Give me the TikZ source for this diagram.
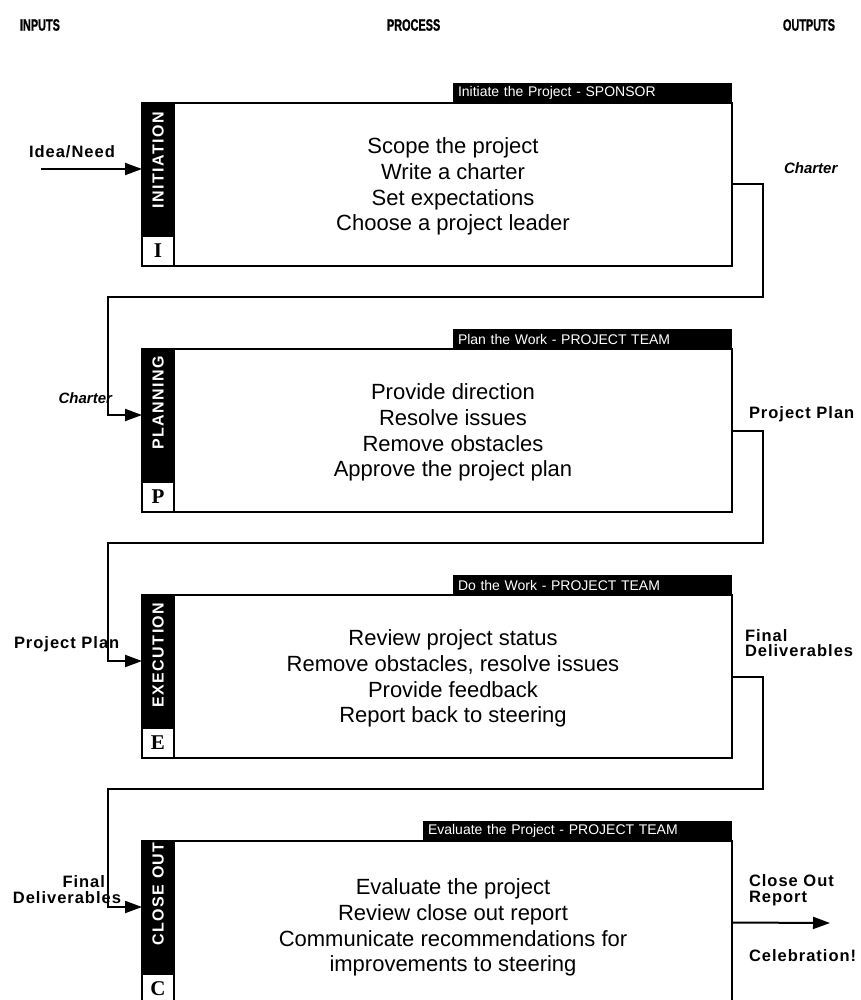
\documentclass[tikz,border=0pt]{standalone}
\usepackage{fontspec}
\setmainfont{Liberation Sans}
\newfontfamily\lblfont[LetterSpace=6]{Liberation Sans}
\newfontfamily\tagfont[LetterSpace=9]{Liberation Sans}
\newfontfamily\headfont[FakeStretch=0.66,FakeBold=1]{Liberation Sans}
\newfontfamily\letterfont{Liberation Serif}
\usetikzlibrary{arrows.meta,calc}

\begin{document}
\begin{tikzpicture}[x=1pt,y=-1pt,line width=2pt,
  box/.style={draw,line width=2pt,minimum width=590pt,minimum height=163pt,
    anchor=north west,inner sep=0pt,outer sep=0pt},
  strip/.style={fill=black,draw=black,line width=2pt,minimum width=32pt,minimum height=133pt,
    anchor=north west,inner sep=0pt,outer sep=0pt},
  cell/.style={draw,line width=2pt,fill=white,minimum width=32pt,minimum height=30pt,
    anchor=north west,inner sep=0pt,outer sep=0pt,
    font=\letterfont\bfseries\fontsize{21}{21}\selectfont},
  stagetag/.style={rotate=90,text=white,inner sep=0pt,
    font=\tagfont\bfseries\fontsize{16}{16}\selectfont},
  headbar/.style={fill=black,text=white,anchor=south east,minimum height=20pt,
    inner xsep=5pt,inner ysep=0pt,outer sep=0pt,align=left,
    font=\fontsize{14}{14}\selectfont},
  bodytext/.style={align=center,inner sep=0pt,
    font=\fontsize{22}{25.7}\selectfont},
  colhead/.style={inner sep=0pt,font=\headfont\bfseries\fontsize{16.5}{16}\selectfont},
  lbl/.style={inner sep=0pt,font=\lblfont\bfseries\fontsize{16.5}{15.5}\selectfont},
  itlbl/.style={inner sep=0pt,font=\bfseries\itshape\fontsize{15}{15}\selectfont},
  arr/.style={-{Triangle[length=17pt,width=12pt]},line width=2pt}]

\useasboundingbox (0,0) rectangle (860,1000);
\clip (0,0) rectangle (860,1000);

% column headings
\node[colhead,anchor=west] (hin) at (19,25) {INPUTS};
\node[colhead,anchor=west] (hproc) at (386,25) {PROCESS};
\node[colhead,anchor=east] (hout) at (836,25) {OUTPUTS};

% ---------------- stage 1: initiation
\node[box] (box1) at (142,103) {};
\node[strip] (strip1) at (box1.north west) {};
\node[cell] (cell1) at (strip1.south west) {I};
\node[stagetag] (tag1) at (158,160) {INITIATION};
\node[headbar,text width=269pt] (head1) at (box1.north east) {Initiate the Project - SPONSOR};
\node[bodytext] (body1) at ($(box1.center)+(16,2)$)
  {Scope the project\\Write a charter\\Set expectations\\Choose a project leader};

% ---------------- stage 2: planning
\node[box] (box2) at (142,349) {};
\node[strip] (strip2) at (box2.north west) {};
\node[cell] (cell2) at (strip2.south west) {P};
\node[stagetag] (tag2) at (158,403) {PLANNING};
\node[headbar,text width=269pt] (head2) at (box2.north east) {Plan the Work - PROJECT TEAM};
\node[bodytext] (body2) at ($(box2.center)+(16,2)$)
  {Provide direction\\Resolve issues\\Remove obstacles\\Approve the project plan};

% ---------------- stage 3: execution
\node[box] (box3) at (142,595) {};
\node[strip] (strip3) at (box3.north west) {};
\node[cell] (cell3) at (strip3.south west) {E};
\node[stagetag] (tag3) at (158,655) {EXECUTION};
\node[headbar,text width=269pt] (head3) at (box3.north east) {Do the Work - PROJECT TEAM};
\node[bodytext] (body3) at ($(box3.center)+(16,2)$)
  {Review project status\\Remove obstacles, resolve issues\\Provide feedback\\Report back to steering};

% ---------------- stage 4: close out
\node[box] (box4) at (142,841) {};
\node[strip] (strip4) at (box4.north west) {};
\node[cell] (cell4) at (strip4.south west) {C};
\node[stagetag] (tag4) at (158,894) {CLOSE OUT};
\node[headbar,text width=299pt] (head4) at (box4.north east) {Evaluate the Project - PROJECT TEAM};
\node[bodytext] (body4) at ($(box4.center)+(16,5)$)
  {Evaluate the project\\Review close out report\\Communicate recommendations for\\improvements to steering};

% ---------------- inputs and hand-overs
\coordinate (start) at (41,169);
\coordinate (in1) at ($(box1.north west)+(0,66)$);
\coordinate (in2) at ($(box2.north west)+(0,66)$);
\coordinate (in3) at ($(box3.north west)+(0,66)$);
\coordinate (in4) at ($(box4.north west)+(0,66)$);
\coordinate (r1) at (763,297);  \coordinate (l1) at (108,297);
\coordinate (r2) at (763,543);  \coordinate (l2) at (108,543);
\coordinate (r3) at (763,789);  \coordinate (l3) at (108,789);
\coordinate (finish) at (830,923);

\draw[arr] (start) -- (in1);
\draw[arr] (box1.east) -| (r1) -- (l1) |- (in2);
\draw[arr] (box2.east) -| (r2) -- (l2) |- (in3);
\draw[arr] (box3.east) -| (r3) -- (l3) |- (in4);
\draw[arr] (box4.east) -- (finish);

% ---------------- labels
\node[lbl,anchor=west] (lidea) at (28,152) {Idea/Need};
\node[itlbl,anchor=west] (lchar1) at (783,168) {Charter};
\node[itlbl,anchor=east] (lchar2) at (113,398) {Charter};
\node[lbl,anchor=west] (lplan1) at (748,414) {Project Plan};
\node[lbl,anchor=west] (lplan2) at (13,644) {Project Plan};
\node[lbl,anchor=west,align=left] (lfin1) at (744,643) {Final\\Deliverables};
\node[lbl,anchor=east] (lfin2a) at (106,882) {Final};
\node[lbl,anchor=east] (lfin2b) at (122,898) {Deliverables};
\node[lbl,anchor=west,align=left] (lclose) at (748,890) {Close Out\\Report};
\node[lbl,anchor=west] (lcele) at (748,956) {Celebration!};
\end{tikzpicture}
\end{document}
